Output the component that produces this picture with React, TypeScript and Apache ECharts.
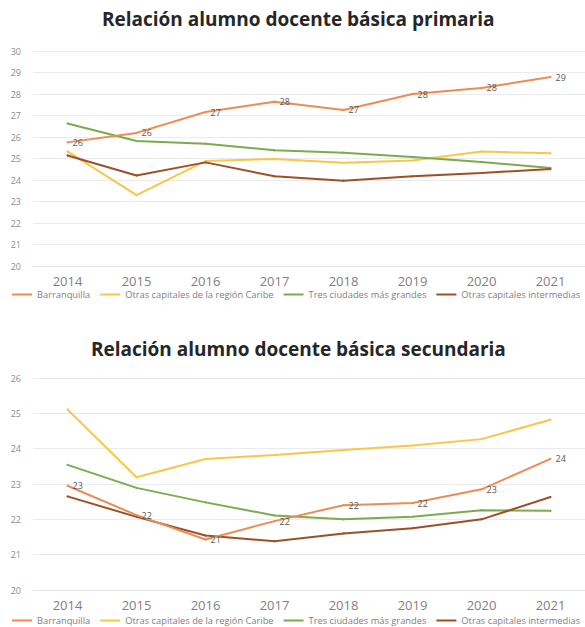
import React, { useEffect, useRef } from "react";
import * as echarts from "echarts";

const years = ["2014", "2015", "2016", "2017", "2018", "2019", "2020", "2021"];
const seriesNames = [
  "Barranquilla",
  "Otras capitales de la región Caribe",
  "Tres ciudades más grandes",
  "Otras capitales intermedias",
];
const colors = ["#EC8C52", "#F8C74A", "#7CAB4E", "#9B5028"];

// Básica primaria
const primBarranquilla = [25.75, 26.19, 27.16, 27.64, 27.26, 28.0, 28.28, 28.79];
const primCaribe = [25.33, 23.3, 24.88, 24.98, 24.8, 24.91, 25.33, 25.24];
const primTres = [26.63, 25.81, 25.69, 25.38, 25.27, 25.07, 24.84, 24.56];
const primIntermedias = [25.14, 24.21, 24.82, 24.17, 23.97, 24.17, 24.33, 24.51];

// Básica secundaria
const secBarranquilla = [22.95, 22.12, 21.43, 21.95, 22.4, 22.46, 22.85, 23.71];
const secCaribe = [25.11, 23.19, 23.71, 23.82, 23.96, 24.09, 24.27, 24.82];
const secTres = [23.54, 22.89, 22.48, 22.11, 22.0, 22.07, 22.26, 22.24];
const secIntermedias = [22.65, 22.07, 21.54, 21.38, 21.6, 21.75, 22.0, 22.63];

const primTitle = "Relación alumno docente básica primaria";
const secTitle = "Relación alumno docente básica secundaria";

export default function App() {
  const ref = useRef<HTMLDivElement>(null);
  useEffect(() => {
    if (!ref.current) return;
    const chart = echarts.init(ref.current, undefined, { renderer: "svg" });
    const font = "'Open Sans', sans-serif";
    const mkSeries = (data: number[][], ax: number) =>
      data.map((d, i) => ({
        name: seriesNames[i],
        type: "line",
        xAxisIndex: ax,
        yAxisIndex: ax,
        data: d,
        symbol: "circle",
        symbolSize: 2,
        showSymbol: true,
        lineStyle: { width: 2, color: colors[i] },
        itemStyle: { color: colors[i] },
        z: i === 0 ? 5 : 3,
        label: {
          show: i === 0,
          position: "right",
          distance: 4,
          fontSize: 9,
          color: "#595959",
          fontFamily: font,
          formatter: (p: any) => String(Math.round(p.value)),
        },
      }));
    const xAxisBase = (gi: number) => ({
      type: "category",
      gridIndex: gi,
      data: years,
      boundaryGap: true,
      axisLine: { show: true, lineStyle: { color: "#E4E4E4" } },
      axisTick: { show: false },
      axisLabel: { fontSize: 13, color: "#7F7F7F", fontFamily: font, margin: 8 },
    });
    const yAxisBase = (gi: number, min: number, max: number) => ({
      type: "value",
      gridIndex: gi,
      min,
      max,
      interval: 1,
      axisLine: { show: false },
      axisTick: { show: false },
      splitLine: { lineStyle: { color: "#EBEBEB", width: 1 } },
      axisLabel: { fontSize: 9, color: "#8C8C8C", fontFamily: font, margin: 12 },
    });
    const legendBase = (top: number) => ({
      top,
      left: 12,
      width: 580,
      padding: 0,
      itemWidth: 20,
      itemHeight: 2,
      itemGap: 10,
      icon: "rect",
      data: seriesNames,
      textStyle: { fontSize: 9.3, color: "#808080", fontFamily: font },
    });
    chart.setOption({
      animation: false,
      backgroundColor: "#FFFFFF",
      title: [
        {
          text: primTitle,
          left: 97,
          top: 4,
          textStyle: { fontSize: 19, fontWeight: "bold", color: "#262626", fontFamily: font },
        },
        {
          text: secTitle,
          left: 86,
          top: 334,
          textStyle: { fontSize: 19, fontWeight: "bold", color: "#262626", fontFamily: font },
        },
      ],
      legend: [legendBase(290), legendBase(616)],
      grid: [
        { left: 33, top: 51, width: 552, height: 215 },
        { left: 33, top: 378, width: 552, height: 212 },
      ],
      xAxis: [xAxisBase(0), xAxisBase(1)],
      yAxis: [yAxisBase(0, 20, 30), yAxisBase(1, 20, 26)],
      series: [
        ...mkSeries([primBarranquilla, primCaribe, primTres, primIntermedias], 0),
        ...mkSeries([secBarranquilla, secCaribe, secTres, secIntermedias], 1),
      ],
    });
    return () => chart.dispose();
  }, []);
  return (
    <div
      ref={ref}
      style={{ position: "fixed", left: 0, top: 0, width: 585, height: 627 }}
    />
  );
}
